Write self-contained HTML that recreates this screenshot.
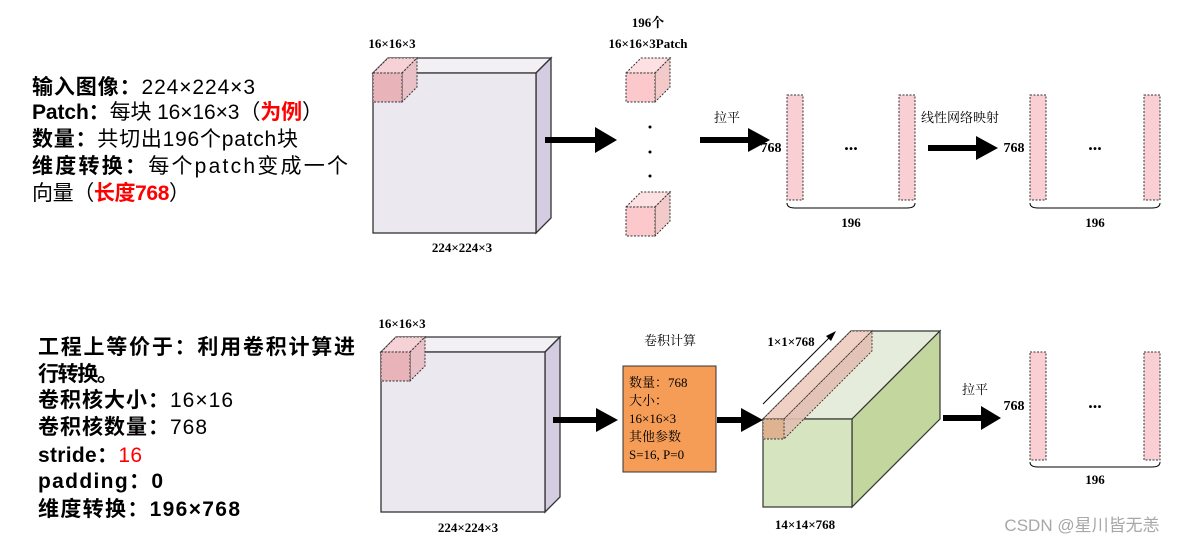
<!DOCTYPE html>
<html><head><meta charset="utf-8"><style>
html,body{margin:0;padding:0;background:#fff;}
svg{display:block;}
.t{font-family:"Liberation Sans","Noto Sans CJK SC",sans-serif;font-size:21px;fill:#000;}
.s{font-family:"Liberation Serif","Noto Serif CJK SC",serif;font-size:13px;font-weight:bold;fill:#000;}
.c{font-family:"Liberation Serif","Noto Serif CJK SC",serif;font-size:13px;fill:#000;}
.b{font-weight:bold;}
.r{fill:#ff0000;font-weight:bold;}
</style></head><body>
<svg width="1187" height="548" xmlns="http://www.w3.org/2000/svg">
<text class="t" x="32" y="94" textLength="223" lengthAdjust="spacing"><tspan class="b">输入图像：</tspan>224×224×3</text>
<text class="t" x="32" y="119" textLength="291" lengthAdjust="spacing"><tspan class="b">Patch：</tspan>每块 16×16×3（<tspan class="r">为例</tspan>）</text>
<text class="t" x="32" y="146" textLength="266" lengthAdjust="spacing"><tspan class="b">数量：</tspan>共切出196个patch块</text>
<text class="t" x="32" y="173" textLength="316" lengthAdjust="spacing"><tspan class="b">维度转换：</tspan>每个patch变成一个</text>
<text class="t" x="32" y="200" textLength="158" lengthAdjust="spacing">向量（<tspan class="r">长度768</tspan>）</text>
<text class="t b" x="38" y="354" textLength="317" lengthAdjust="spacing">工程上等价于：利用卷积计算进</text>
<text class="t b" x="38" y="381" textLength="80" lengthAdjust="spacing">行转换。</text>
<text class="t" x="38" y="407" textLength="195" lengthAdjust="spacing"><tspan class="b">卷积核大小：</tspan>16×16</text>
<text class="t" x="38" y="434" textLength="169" lengthAdjust="spacing"><tspan class="b">卷积核数量：</tspan>768</text>
<text class="t" x="38" y="462" textLength="104" lengthAdjust="spacing"><tspan class="b">stride：</tspan><tspan fill="#ff0000">16</tspan></text>
<text class="t b" x="38" y="488" textLength="125" lengthAdjust="spacing">padding：0</text>
<text class="t b" x="38" y="516" textLength="202" lengthAdjust="spacing">维度转换：196×768</text>

<g stroke="#333" stroke-width="1.3">
<polygon points="373,73 388,58 551,58 536,73" fill="#f2f0f5"/>
<polygon points="536,73 551,58 551,218 536,233" fill="#d4cce0"/>
<rect x="373" y="73" width="163" height="160" fill="#ebe8f0"/>
</g>
<g stroke="#333" stroke-width="1" stroke-dasharray="2,1.5">
<polygon points="373,73 388,58 417,58 402,73" fill="#f6d2d6"/>
<polygon points="402,73 417,58 417,87 402,102" fill="#e8c0c6"/>
<rect x="373" y="73" width="29" height="29" fill="#e9b3ba"/>
</g>
<text class="s" x="392" y="48" text-anchor="middle">16×16×3</text>
<text class="s" x="462" y="252" text-anchor="middle">224×224×3</text>
<line x1="545" y1="140" x2="600" y2="140" stroke="#000" stroke-width="6"/>
<polygon points="595,127 617,140 595,153" fill="#000"/>

<g stroke="#333" stroke-width="1" stroke-dasharray="2,1.5">
<polygon points="626,73 641,58 670,58 655,73" fill="#fde0e2"/>
<polygon points="655,73 670,58 670,87 655,102" fill="#f3caca"/>
<rect x="626" y="73" width="29" height="29" fill="#fbc9cb"/>
<polygon points="626,207 641,192 670,192 655,207" fill="#fde0e2"/>
<polygon points="655,207 670,192 670,221 655,236" fill="#f3caca"/>
<rect x="626" y="207" width="29" height="29" fill="#fbc9cb"/>
</g>
<text class="s" x="648" y="27" text-anchor="middle">196个</text>
<text class="s" x="648" y="48" text-anchor="middle">16×16×3Patch</text>
<circle cx="650" cy="127" r="1.5"/><circle cx="650" cy="152" r="1.5"/><circle cx="650" cy="176" r="1.5"/>

<line x1="700" y1="140" x2="752" y2="140" stroke="#000" stroke-width="6"/>
<polygon points="748,128 770,140 748,152" fill="#000"/>
<text class="c" x="727" y="122" text-anchor="middle">拉平</text>
<text class="s" x="771" y="152" text-anchor="middle" style="font-size:14px">768</text>
<g stroke="#333" stroke-width="1" stroke-dasharray="2,1.5" fill="#f9cfd3">
<rect x="787" y="95" width="16" height="105"/><rect x="899" y="95" width="16" height="105"/>
<rect x="1030" y="95" width="16" height="105"/><rect x="1144" y="95" width="16" height="105"/>
<rect x="1030" y="352" width="16" height="108"/><rect x="1144" y="352" width="16" height="108"/>
</g>
<text class="s" x="851" y="150" text-anchor="middle" style="font-size:18px">...</text>
<text class="s" x="1095" y="150" text-anchor="middle" style="font-size:18px">...</text>
<text class="s" x="1095" y="408" text-anchor="middle" style="font-size:18px">...</text>
<g fill="none" stroke="#000" stroke-width="1">
<path d="M787,203 Q787,208 795,208 L907,208 Q915,208 915,203"/>
<path d="M1030,203 Q1030,208 1038,208 L1152,208 Q1160,208 1160,203"/>
<path d="M1030,462 Q1030,467 1038,467 L1152,467 Q1160,467 1160,462"/>
</g>
<text class="s" x="851" y="227" text-anchor="middle">196</text>
<text class="s" x="1095" y="227" text-anchor="middle">196</text>
<text class="s" x="1095" y="484" text-anchor="middle">196</text>

<line x1="928" y1="148" x2="980" y2="148" stroke="#000" stroke-width="6"/>
<polygon points="976,136 998,148 976,160" fill="#000"/>
<text class="c" x="960" y="122" text-anchor="middle">线性网络映射</text>
<text class="s" x="1014" y="152" text-anchor="middle" style="font-size:14px">768</text>

<g stroke="#333" stroke-width="1.3">
<polygon points="381,352 396,337 560,337 545,352" fill="#f2f0f5"/>
<polygon points="545,352 560,337 560,497 545,512" fill="#d4cce0"/>
<rect x="381" y="352" width="164" height="160" fill="#ebe8f0"/>
</g>
<g stroke="#333" stroke-width="1" stroke-dasharray="2,1.5">
<polygon points="381,352 396,337 425,337 410,352" fill="#f6d2d6"/>
<polygon points="410,352 425,337 425,366 410,381" fill="#e8c0c6"/>
<rect x="381" y="352" width="29" height="29" fill="#e9b3ba"/>
</g>
<text class="s" x="402" y="328" text-anchor="middle">16×16×3</text>
<text class="s" x="468" y="532" text-anchor="middle">224×224×3</text>
<line x1="553" y1="420" x2="600" y2="420" stroke="#000" stroke-width="6"/>
<polygon points="596,408 618,420 596,432" fill="#000"/>

<rect x="623" y="366" width="93" height="106" fill="#f59d56" stroke="#333" stroke-width="1"/>
<text class="c" x="670" y="345" text-anchor="middle">卷积计算</text>
<g class="c">
<text x="629" y="387">数量：768</text>
<text x="629" y="405">大小：</text>
<text x="629" y="423">16×16×3</text>
<text x="629" y="441">其他参数</text>
<text x="629" y="459">S=16, P=0</text>
</g>
<line x1="717" y1="420" x2="745" y2="420" stroke="#000" stroke-width="6"/>
<polygon points="741,408 763,420 741,432" fill="#000"/>

<g stroke="#333" stroke-width="1.2">
<polygon points="763,419 851,331 940,331 852,419" fill="#e6ecdc"/>
<polygon points="852,419 940,331 940,419 852,507" fill="#c2d69e"/>
<rect x="763" y="419" width="89" height="88" fill="#d7e4c0"/>
</g>
<g stroke="#333" stroke-width="0.9" stroke-dasharray="2,1.5">
<polygon points="763,419 851,331 872,331 784,419" fill="#efcdbf" fill-opacity="0.9"/>
<polygon points="784,419 872,331 872,351 784,439" fill="#e2bfb0" fill-opacity="0.9"/>
<rect x="763" y="419" width="21" height="20" fill="#deb391"/>
</g>
<line x1="763" y1="404" x2="830" y2="337" stroke="#000" stroke-width="1"/>
<polygon points="836,331 826,336 831,341" fill="#000"/>
<text class="s" x="791" y="346" text-anchor="middle">1×1×768</text>
<text class="s" x="805" y="529" text-anchor="middle">14×14×768</text>

<line x1="943" y1="418" x2="985" y2="418" stroke="#000" stroke-width="6"/>
<polygon points="981,406 1001,418 981,430" fill="#000"/>
<text class="c" x="975" y="394" text-anchor="middle">拉平</text>
<text class="s" x="1014" y="410" text-anchor="middle" style="font-size:14px">768</text>

<text x="1082" y="531" text-anchor="middle" style="font-family:'Liberation Sans','Noto Sans CJK SC',sans-serif;font-size:17px;fill:#a8a8a8">CSDN @星川皆无恙</text>
</svg>
</body></html>
